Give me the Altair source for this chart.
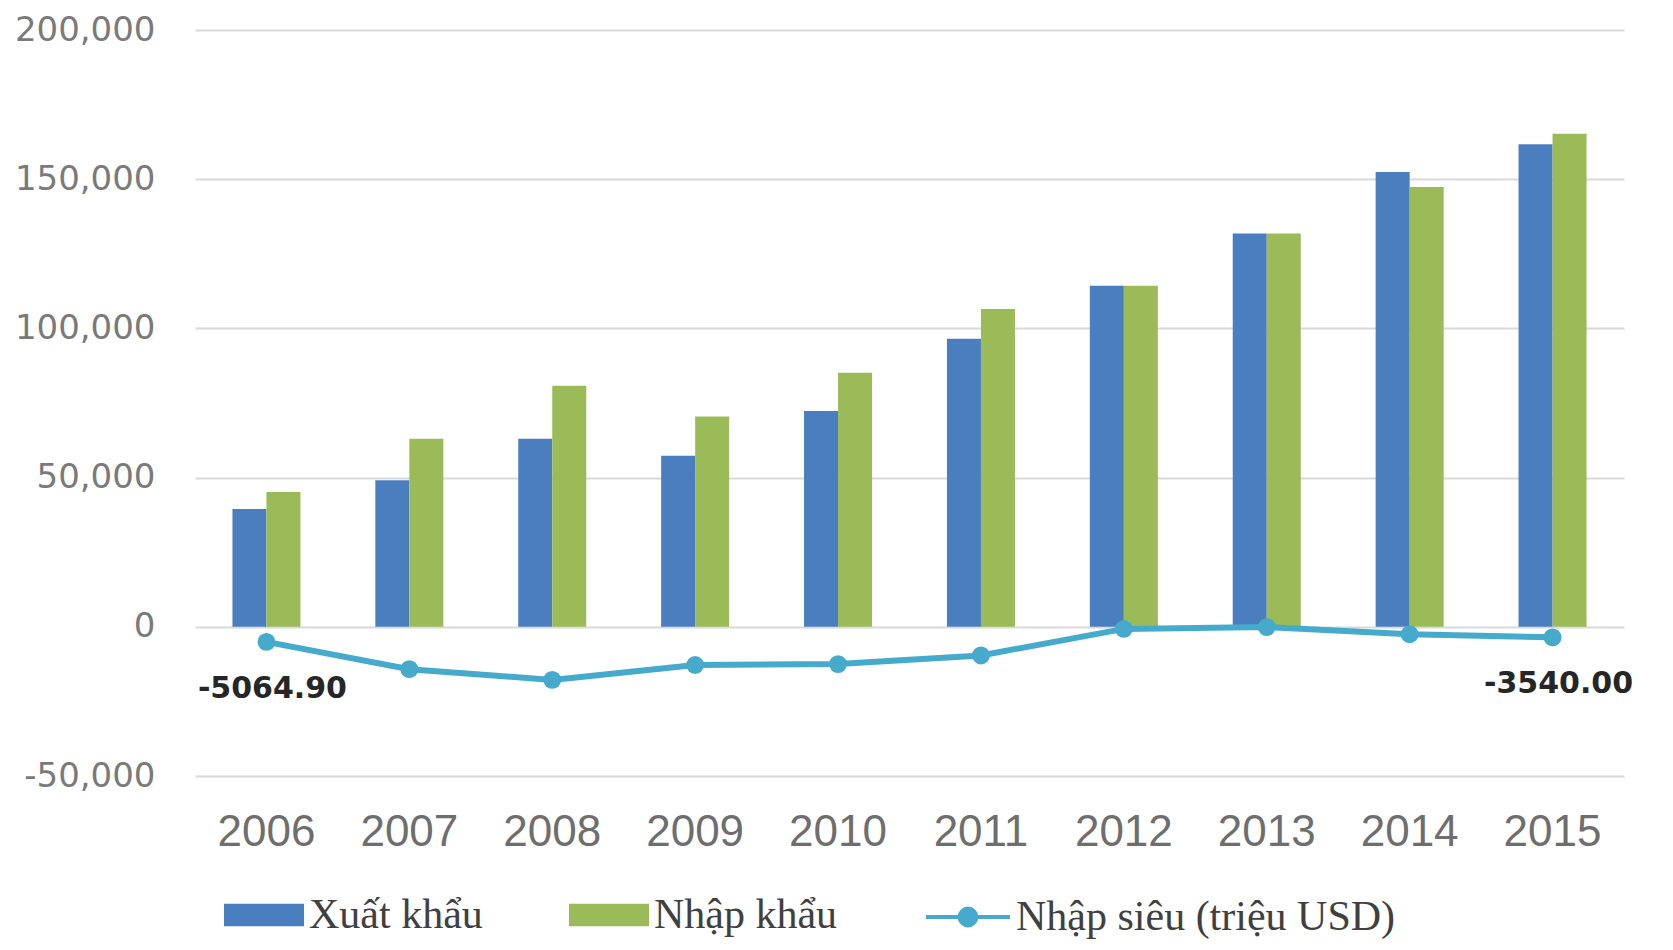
import altair as alt
import pandas as pd

years = ["2006", "2007", "2008", "2009", "2010", "2011", "2012", "2013", "2014", "2015"]
xuat_khau = [39500, 49100, 63000, 57300, 72300, 96500, 114300, 131800, 152400, 161700]
nhap_khau = [45200, 63000, 80800, 70500, 85100, 106500, 114300, 131800, 147400, 165200]
nhap_sieu = [-5064.90, -14200, -17800, -12800, -12500, -9600, -700, -100, -2500, -3540.00]
labelled_years = ["2006", "2015"]

series_names = ["Xuất khẩu", "Nhập khẩu"]
line_name = "Nhập siêu (triệu USD)"
bar_colors = ["#4A7EBF", "#9BBB59"]
line_color = "#45AACB"

bars_df = pd.DataFrame(
    [{"year": y, "series": series_names[0], "value": v} for y, v in zip(years, xuat_khau)]
    + [{"year": y, "series": series_names[1], "value": v} for y, v in zip(years, nhap_khau)]
)
line_df = pd.DataFrame({"year": years, "value": nhap_sieu, "name": line_name})
line_df["label"] = [f"{v:.2f}" if y in labelled_years else "" for y, v in zip(years, nhap_sieu)]

x_scale = alt.Scale(domain=years, paddingInner=0.524, paddingOuter=0.262)
y_scale = alt.Scale(domain=[-50000, 200000])

x_enc = alt.X(
    "year:N",
    scale=x_scale,
    title=None,
    axis=alt.Axis(
        labelAngle=0, domain=False, ticks=False, grid=False,
        labelFont="Liberation Sans", labelFontSize=44, labelColor="#6E6E6E",
        labelBaseline="middle", labelPadding=56,
    ),
)
y_enc = alt.Y(
    "value:Q",
    scale=y_scale,
    title=None,
    axis=alt.Axis(
        values=[-50000, 0, 50000, 100000, 150000, 200000],
        labelExpr="replace(format(datum.value, ','), '\u2212', '-')",
        domain=False, ticks=False, grid=True, gridColor="#D9D9D9", gridWidth=2,
        labelFont="DejaVu Sans", labelFontSize=34, labelColor="#7A7A7A",
        labelPadding=40,
    ),
)

bars = alt.Chart(bars_df).mark_bar().encode(
    x=x_enc,
    xOffset=alt.XOffset("series:N", sort=series_names, scale=alt.Scale(paddingInner=0, paddingOuter=0)),
    y=y_enc,
    color=alt.Color(
        "series:N",
        sort=series_names,
        scale=alt.Scale(domain=series_names, range=bar_colors),
        legend=alt.Legend(
            title=None, orient="none", direction="horizontal", legendX=29, legendY=845,
            padding=0, symbolType="M-1,-0.28H1V0.28H-1Z", symbolSize=6400,
            symbolStrokeWidth=0, labelFont="Liberation Serif", labelFontSize=42,
            labelColor="#404040", labelOffset=5, labelLimit=600, columnPadding=86,
        ),
    ),
)

line = alt.Chart(line_df).mark_line(strokeWidth=6).encode(
    x=alt.X("year:N", scale=x_scale),
    y=alt.Y("value:Q", scale=y_scale),
    stroke=alt.Stroke(
        "name:N",
        scale=alt.Scale(domain=[line_name], range=[line_color]),
        legend=alt.Legend(
            title=None, orient="none", direction="horizontal", legendX=729, legendY=843,
            padding=0,
            symbolType="M-1,0H1M-0.2,0A0.2,0.2,0,1,1,0.2,0A0.2,0.2,0,1,1,-0.2,0",
            symbolSize=7056, symbolStrokeWidth=4, symbolFillColor=line_color,
            labelFont="Liberation Serif", labelFontSize=42, labelColor="#404040",
            labelOffset=4, labelLimit=800,
        ),
    ),
)

points = alt.Chart(line_df).mark_circle(size=320, opacity=1, color=line_color).encode(
    x=alt.X("year:N", scale=x_scale),
    y=alt.Y("value:Q", scale=y_scale),
)

labels = alt.Chart(line_df).transform_filter("datum.label != ''").mark_text(
    font="DejaVu Sans", fontWeight="bold", fontSize=30, color="#262626",
    dy=47, dx=6, baseline="middle", align="center",
).encode(
    x=alt.X("year:N", scale=x_scale),
    y=alt.Y("value:Q", scale=y_scale),
    text="label:N",
)

chart = alt.layer(bars, line, points, labels).properties(
    width=1429,
    height=746,
    autosize=alt.AutoSizeParams(type="none"),
    padding={"left": 187, "top": 22, "right": 41, "bottom": 166},
    background="white",
).configure_view(stroke=None)

chart.save("out.html", embed_options={"renderer": "svg", "actions": False})
